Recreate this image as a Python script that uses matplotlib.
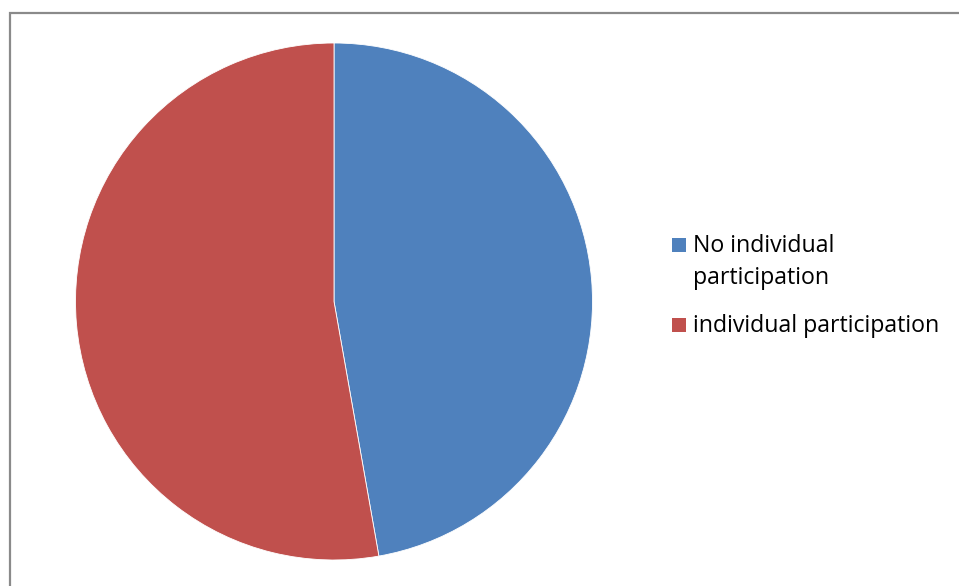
import matplotlib.pyplot as plt
from matplotlib.patches import Rectangle

labels = ["No individual\nparticipation", "individual participation"]
values = [17, 19]
colors = ["#4F81BD", "#C0504D"]

W, H = 959, 586


def fx(px):
    return px / W


def fy(py):
    return 1 - py / H


def plot_pie():
    fig = plt.figure(figsize=(W / 100, H / 100), dpi=100)
    plt.rcParams['font.family'] = ['Open Sans', 'DejaVu Sans']

    # outer chart frame
    fig.add_artist(Rectangle((fx(9.5), -0.1), 1.2, fy(12.5) + 0.1, fill=False,
                             edgecolor="#8a8a8a", linewidth=1.6,
                             transform=fig.transFigure, clip_on=False))

    cx, cy, r = 334, 301.5, 258.5
    ax = fig.add_axes([fx(cx - r), fy(cy + r), 2 * r / W, 2 * r / H])
    ax.pie(values, colors=colors, startangle=90, counterclock=False,
           wedgeprops=dict(edgecolor="white", linewidth=0.6))
    ax.set_xlim(-1, 1)
    ax.set_ylim(-1, 1)
    ax.set_aspect("auto")

    # legend drawn by hand so the marker sits on the first line of text
    box = 14
    line_step = 32
    baselines = [252, 332]
    for label, color, base in zip(labels, colors, baselines):
        fig.add_artist(Rectangle((fx(672), fy(base)), box / W, box / H,
                                 facecolor=color, edgecolor="none",
                                 transform=fig.transFigure))
        for i, line in enumerate(label.split("\n")):
            fig.text(fx(693), fy(base + i * line_step), line, fontsize=16.7,
                     va="baseline", ha="left", color="black")

    fig.savefig("out.png", dpi=100)


if __name__ == "__main__":
    plot_pie()
